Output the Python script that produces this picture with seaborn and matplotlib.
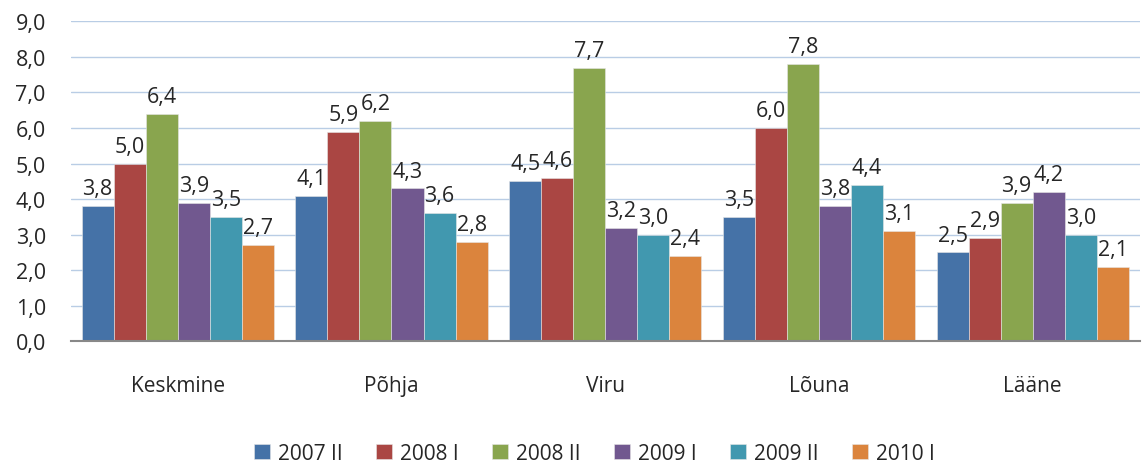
import pandas as pd
import numpy as np
import matplotlib
matplotlib.use('Agg')
import matplotlib.pyplot as plt
import seaborn as sns

regions = ["Keskmine", "Põhja", "Viru", "Lõuna", "Lääne"]
periods = ["2007 II", "2008 I", "2008 II", "2009 I", "2009 II", "2010 I"]
v2007_II = [3.8, 4.1, 4.5, 3.5, 2.5]
v2008_I = [5.0, 5.9, 4.6, 6.0, 2.9]
v2008_II = [6.4, 6.2, 7.7, 7.8, 3.9]
v2009_I = [3.9, 4.3, 3.2, 3.8, 4.2]
v2009_II = [3.5, 3.6, 3.0, 4.4, 3.0]
v2010_I = [2.7, 2.8, 2.4, 3.1, 2.1]
colors = ["#4572A7", "#AA4643", "#89A54E", "#71588F", "#4198AF", "#DB843D"]

series = [v2007_II, v2008_I, v2008_II, v2009_I, v2009_II, v2010_I]
rows = []
for p, vals in zip(periods, series):
    for r, v in zip(regions, vals):
        rows.append({"region": r, "period": p, "value": v})
df = pd.DataFrame(rows)

sns.set_style("white")
plt.rcParams['font.family'] = ['Open Sans', 'DejaVu Sans']

fig = plt.figure(figsize=(11.43, 4.64), dpi=100)
ax = fig.add_axes([0.062, 0.262, 0.935, 0.69])
sns.barplot(data=df, x="region", y="value", hue="period", hue_order=periods,
            palette=colors, width=0.9, saturation=1, ax=ax, legend=True,
            edgecolor='#e6e6e6', linewidth=0.4)

for c in ax.containers:
    ax.bar_label(c, labels=[f"{v:.1f}".replace(".", ",") for v in c.datavalues],
                 padding=5, fontsize=15.5)

ax.set_ylim(0, 9)
ax.set_yticks(np.arange(0, 9.1, 1))
ax.set_yticklabels([f"{t:.1f}".replace(".", ",") for t in np.arange(0, 9.1, 1)], fontsize=15.5)
ax.set_xlim(-0.5, 4.5)
ax.tick_params(axis='x', labelsize=15, pad=24, length=0)
ax.tick_params(axis='y', length=0, pad=18)
ax.grid(axis='y', color='#b9cde5', linewidth=1)
ax.set_axisbelow(True)
for s in ['top', 'right', 'left']:
    ax.spines[s].set_visible(False)
ax.spines['bottom'].set_color('#888888')
ax.spines['bottom'].set_linewidth(1.5)
ax.set_xlabel("")
ax.set_ylabel("")

ax.legend(loc='lower center', bbox_to_anchor=(0.49, -0.44), ncol=6, frameon=False,
          fontsize=15, handlelength=0.75, handleheight=0.75, handletextpad=0.4,
          columnspacing=1.6)

fig.savefig("out.png", dpi=100)
